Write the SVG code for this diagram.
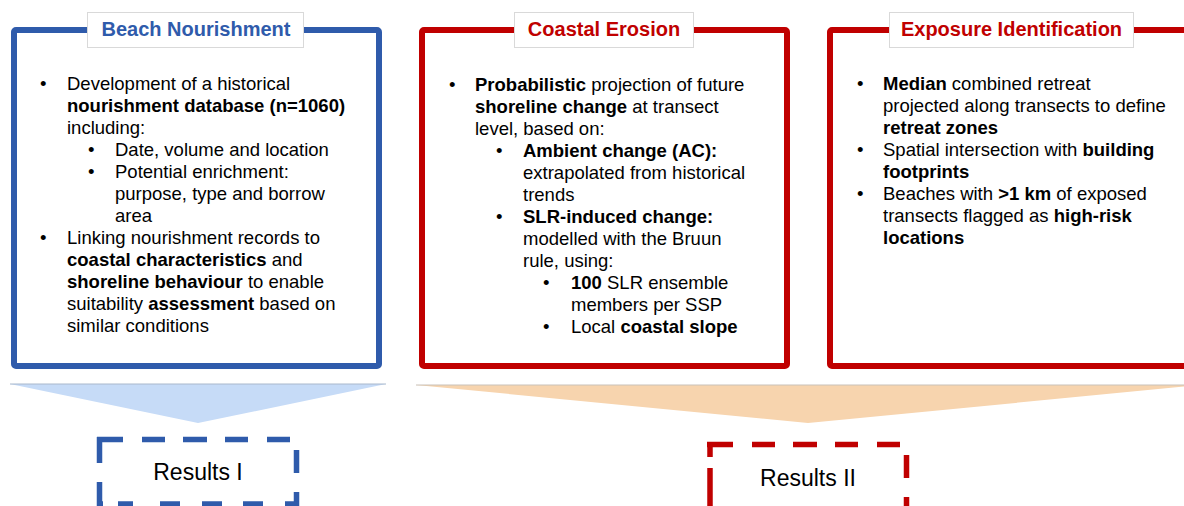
<svg xmlns="http://www.w3.org/2000/svg" width="1184" height="506" viewBox="0 0 1184 506">
<style>
.t{font-family:"Liberation Sans",Arial,Helvetica,sans-serif;font-size:18.5px;fill:#000}
.b{font-weight:bold}
.ttl{font-family:"Liberation Sans",Arial,Helvetica,sans-serif;font-size:20px;font-weight:bold;text-anchor:middle}
.res{font-family:"Liberation Sans",Arial,Helvetica,sans-serif;font-size:23px;fill:#000;text-anchor:middle}
.blue{stroke:#2f5bab}
.red{stroke:#c00000}
.frame{fill:#fff;stroke-width:6}
.lbl{fill:#fff;stroke:#d9d9d9;stroke-width:1}
.dash{fill:none;stroke-width:5.5}
</style>
<rect width="1184" height="506" fill="#fff"/>
<g id="connectors">
<polygon points="10,384 386,384 198,423" fill="#c6dbf7"/>
<line x1="10" y1="384" x2="386" y2="384" stroke="#a9b8cc" stroke-width="1"/>
<polygon points="416,385 1200,385 808,423" fill="#f7d4ae"/>
<line x1="416" y1="385" x2="1200" y2="385" stroke="#c9c1b8" stroke-width="1"/>
</g>
<g id="beach-nourishment">
<rect class="frame blue" x="14" y="30" width="365" height="336" rx="2"/>
<rect class="lbl" x="87.5" y="12.5" width="216" height="35"/>
<text class="ttl" x="196" y="36" fill="#2f5bab">Beach Nourishment</text>
<text class="t" x="40" y="90">•</text>
<text class="t" x="67" y="90">Development of a historical</text>
<text class="t b" x="67" y="112">nourishment database (n=1060)</text>
<text class="t" x="67" y="134">including:</text>
<text class="t" x="88" y="156">•</text>
<text class="t" x="115" y="156">Date, volume and location</text>
<text class="t" x="88" y="178">•</text>
<text class="t" x="115" y="178">Potential enrichment:</text>
<text class="t" x="115" y="200">purpose, type and borrow</text>
<text class="t" x="115" y="222">area</text>
<text class="t" x="40" y="244">•</text>
<text class="t" x="67" y="244">Linking nourishment records to</text>
<text class="t" x="67" y="266"><tspan class="b">coastal characteristics</tspan> and</text>
<text class="t" x="67" y="288"><tspan class="b">shoreline behaviour</tspan> to enable</text>
<text class="t" x="67" y="310">suitability <tspan class="b">assessment</tspan> based on</text>
<text class="t" x="67" y="332">similar conditions</text>
</g>
<g id="coastal-erosion">
<rect class="frame red" x="422" y="30" width="365" height="336" rx="2"/>
<rect class="lbl" x="514.5" y="12.5" width="179" height="35"/>
<text class="ttl" x="604" y="36" fill="#c00000">Coastal Erosion</text>
<text class="t" x="449" y="91">•</text>
<text class="t" x="475" y="91"><tspan class="b">Probabilistic</tspan> projection of future</text>
<text class="t" x="475" y="113"><tspan class="b">shoreline change</tspan> at transect</text>
<text class="t" x="475" y="135">level, based on:</text>
<text class="t" x="496" y="157">•</text>
<text class="t b" x="523" y="157">Ambient change (AC):</text>
<text class="t" x="523" y="179">extrapolated from historical</text>
<text class="t" x="523" y="201">trends</text>
<text class="t" x="496" y="223">•</text>
<text class="t b" x="523" y="223">SLR-induced change:</text>
<text class="t" x="523" y="245">modelled with the Bruun</text>
<text class="t" x="523" y="267">rule, using:</text>
<text class="t" x="543" y="289">•</text>
<text class="t" x="571" y="289"><tspan class="b">100</tspan> SLR ensemble</text>
<text class="t" x="571" y="311">members per SSP</text>
<text class="t" x="543" y="333">•</text>
<text class="t" x="571" y="333">Local <tspan class="b">coastal slope</tspan></text>
</g>
<g id="exposure-identification">
<rect class="frame red" x="830" y="30" width="365" height="336" rx="2"/>
<rect class="lbl" x="889.5" y="12.5" width="244" height="35"/>
<text class="ttl" x="1011.5" y="36" fill="#c00000">Exposure Identification</text>
<text class="t" x="857" y="90">•</text>
<text class="t" x="883" y="90"><tspan class="b">Median</tspan> combined retreat</text>
<text class="t" x="883" y="112">projected along transects to define</text>
<text class="t b" x="883" y="134">retreat zones</text>
<text class="t" x="857" y="156">•</text>
<text class="t" x="883" y="156">Spatial intersection with <tspan class="b">building</tspan></text>
<text class="t b" x="883" y="178">footprints</text>
<text class="t" x="857" y="200">•</text>
<text class="t" x="883" y="200">Beaches with <tspan class="b">&gt;1 km</tspan> of exposed</text>
<text class="t" x="883" y="222">transects flagged as <tspan class="b">high-risk</tspan></text>
<text class="t b" x="883" y="244">locations</text>
</g>
<g id="results-1">
<rect x="99.5" y="439.5" width="197" height="65" fill="#fff"/>
<line class="dash blue" x1="97" y1="439.5" x2="299" y2="439.5" stroke-dasharray="26 19 23 18 24 18 23 19 23 100"/>
<line class="dash blue" x1="99.5" y1="437" x2="99.5" y2="507" stroke-dasharray="26 19 40"/>
<line class="dash blue" x1="296.5" y1="450" x2="296.5" y2="507" stroke-dasharray="23 19"/>
<line class="dash blue" x1="97" y1="504" x2="299" y2="504" stroke-dasharray="6 15 15 27 20 22 20 21 20 22 14"/>
<text class="res" x="198" y="480">Results I</text>
</g>
<g id="results-2">
<rect x="710" y="444.5" width="197" height="70" fill="#fff"/>
<line class="dash red" x1="707" y1="444.5" x2="909" y2="444.5" stroke-dasharray="26 19 23 18 24 18 23 19 23 100"/>
<line class="dash red" x1="710" y1="442" x2="710" y2="510" stroke-dasharray="15 11 40"/>
<line class="dash red" x1="906.5" y1="455" x2="906.5" y2="510" stroke-dasharray="23 19"/>
<text class="res" x="808" y="486">Results II</text>
</g>
</svg>
